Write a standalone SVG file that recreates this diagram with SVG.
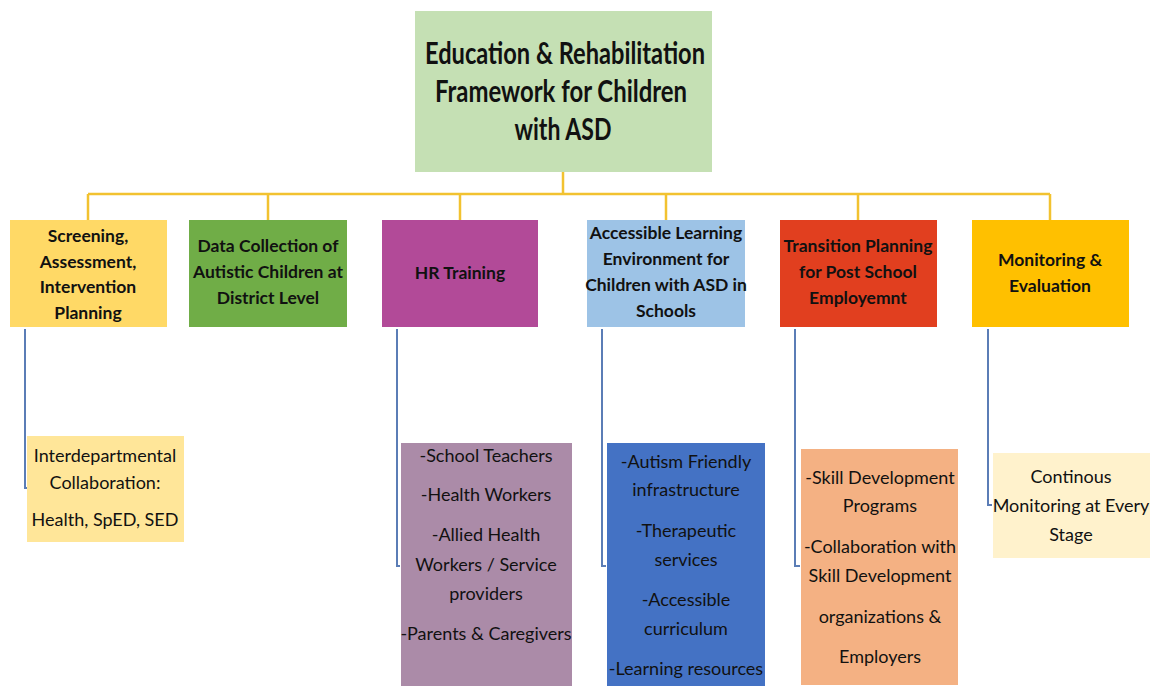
<svg xmlns="http://www.w3.org/2000/svg" width="1152" height="686" viewBox="0 0 1152 686">
  <style>
    .t { font-family: Lato, "Noto Sans", "Liberation Sans", sans-serif; fill: #111; text-anchor: middle; }
    .title { font-size: 30px; font-weight: bold; }
    .lvl { font-size: 17.5px; font-weight: bold; }
    .sub { font-size: 18px; }
    .bus { fill: none; stroke: #f2c230; stroke-width: 2.5; }
    .leg { fill: none; stroke: #5b7db6; stroke-width: 2; }
  </style>
  <rect width="1152" height="686" fill="#ffffff"/>

  <!-- connectors -->
  <g id="connectors">
    <path class="bus" d="M563 172 V194 M88 194 H1050 M88 194 V220 M268 194 V220 M460 194 V220 M666 194 V220 M858 194 V220 M1050 194 V220"/>
    <path class="leg" d="M25 329 V488 h2"/>
    <path class="leg" d="M397 329 V566 h3"/>
    <path class="leg" d="M602 329 V566 h4"/>
    <path class="leg" d="M795 329 V566 h5"/>
    <path class="leg" d="M988 329 V505 h4"/>
  </g>

  <!-- root -->
  <g id="root">
    <rect x="415" y="11" width="297" height="161" fill="#c5e0b4"/>
    <text class="t title" x="565" y="64" textLength="280" lengthAdjust="spacingAndGlyphs">Education &amp; Rehabilitation</text>
    <text class="t title" x="561" y="102" textLength="252" lengthAdjust="spacingAndGlyphs">Framework for Children</text>
    <text class="t title" x="563" y="140" textLength="97" lengthAdjust="spacingAndGlyphs">with ASD</text>
  </g>

  <!-- first level -->
  <g id="screening">
    <rect x="10" y="220" width="157" height="107" fill="#ffd966"/>
    <text class="t lvl" x="88" y="242">Screening,</text>
    <text class="t lvl" x="88" y="268">Assessment,</text>
    <text class="t lvl" x="88" y="293">Intervention</text>
    <text class="t lvl" x="88" y="319">Planning</text>
  </g>
  <g id="data-collection">
    <rect x="189" y="220" width="158" height="107" fill="#70ad47"/>
    <text class="t lvl" x="268" y="252">Data Collection of</text>
    <text class="t lvl" x="268" y="278">Autistic Children at</text>
    <text class="t lvl" x="268" y="304">District Level</text>
  </g>
  <g id="hr-training">
    <rect x="382" y="220" width="156" height="107" fill="#b24a98"/>
    <text class="t lvl" x="460" y="279">HR Training</text>
  </g>
  <g id="learning-environment">
    <rect x="587" y="220" width="158" height="107" fill="#9dc3e6"/>
    <text class="t lvl" x="666" y="239">Accessible Learning</text>
    <text class="t lvl" x="666" y="265">Environment for</text>
    <text class="t lvl" x="666" y="291">Children with ASD in</text>
    <text class="t lvl" x="666" y="317">Schools</text>
  </g>
  <g id="transition">
    <rect x="780" y="220" width="157" height="107" fill="#e13f1f"/>
    <text class="t lvl" x="858" y="252">Transition Planning</text>
    <text class="t lvl" x="858" y="278">for Post School</text>
    <text class="t lvl" x="858" y="304">Employemnt</text>
  </g>
  <g id="monitoring">
    <rect x="972" y="220" width="157" height="107" fill="#ffc000"/>
    <text class="t lvl" x="1050" y="266">Monitoring &amp;</text>
    <text class="t lvl" x="1050" y="292">Evaluation</text>
  </g>

  <!-- second level -->
  <g id="collaboration">
    <rect x="27" y="436" width="157" height="106" fill="#ffe699"/>
    <text class="t sub" x="105" y="462">Interdepartmental</text>
    <text class="t sub" x="105" y="489">Collaboration:</text>
    <text class="t sub" x="105" y="526">Health, SpED, SED</text>
  </g>
  <g id="hr-groups">
    <rect x="401" y="443" width="171" height="243" fill="#ab8ba8"/>
    <text class="t sub" x="486" y="462">-School Teachers</text>
    <text class="t sub" x="486" y="501">-Health Workers</text>
    <text class="t sub" x="486" y="541">-Allied Health</text>
    <text class="t sub" x="486" y="571">Workers / Service</text>
    <text class="t sub" x="486" y="600">providers</text>
    <text class="t sub" x="486" y="640">-Parents &amp; Caregivers</text>
  </g>
  <g id="school-supports">
    <rect x="607" y="443" width="158" height="243" fill="#4472c4"/>
    <text class="t sub" x="686" y="468">-Autism Friendly</text>
    <text class="t sub" x="686" y="496">infrastructure</text>
    <text class="t sub" x="686" y="537">-Therapeutic</text>
    <text class="t sub" x="686" y="566">services</text>
    <text class="t sub" x="686" y="606">-Accessible</text>
    <text class="t sub" x="686" y="635">curriculum</text>
    <text class="t sub" x="686" y="675">-Learning resources</text>
  </g>
  <g id="skills">
    <rect x="801" y="449" width="157" height="236" fill="#f4b183"/>
    <text class="t sub" x="880" y="484">-Skill Development</text>
    <text class="t sub" x="880" y="512">Programs</text>
    <text class="t sub" x="880" y="553">-Collaboration with</text>
    <text class="t sub" x="880" y="582">Skill  Development</text>
    <text class="t sub" x="880" y="623">organizations &amp;</text>
    <text class="t sub" x="880" y="663">Employers</text>
  </g>
  <g id="continuous-monitoring">
    <rect x="993" y="453" width="157" height="105" fill="#fff2cc"/>
    <text class="t sub" x="1071" y="483">Continous</text>
    <text class="t sub" x="1071" y="512">Monitoring at Every</text>
    <text class="t sub" x="1071" y="541">Stage</text>
  </g>
</svg>
